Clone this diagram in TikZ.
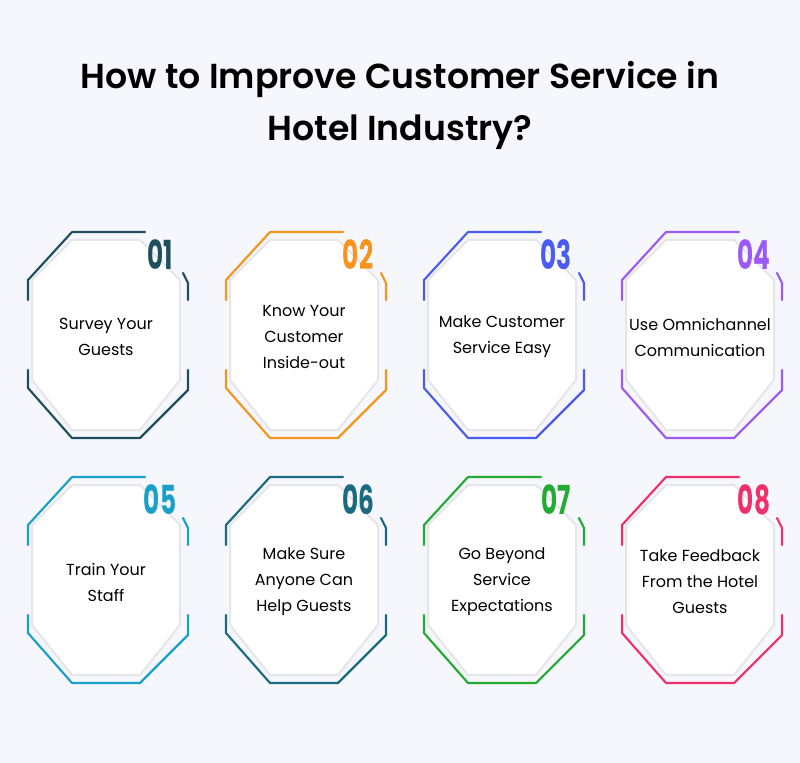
\documentclass[tikz,border=0pt]{standalone}
\usepackage{fontspec}
\usepackage{graphicx}
\setmainfont{Poppins}
\newfontfamily\titlefont{Poppins SemiBold}
\newfontfamily\numfont{Poppins Bold}
\definecolor{cA}{HTML}{1F4E5F}
\definecolor{cB}{HTML}{F7941D}
\definecolor{cC}{HTML}{4A5CF0}
\definecolor{cD}{HTML}{9B59F5}
\definecolor{cE}{HTML}{1AA0C8}
\definecolor{cF}{HTML}{1A6B80}
\definecolor{cG}{HTML}{22AA33}
\definecolor{cH}{HTML}{F0306A}
\definecolor{bgback}{HTML}{F6F7FD}
\definecolor{innerline}{HTML}{E6E6E8}
\tikzset{
  frame/.style={line width=1.6pt, line join=round, line cap=round},
  innerbox/.style={fill=white, draw=innerline, line width=1.5pt},
  cardtext/.style={align=center, font=\fontsize{12}{19.5}\selectfont, text=black},
  cardnum/.style={font=\numfont\fontsize{30}{30}\selectfont},
}
\newcommand{\hotelcard}[6]{%
  % #1 name, #2 x centre, #3 y top, #4 colour, #5 number, #6 text
  \begin{scope}[shift={(#2,#3)}]
    \draw[innerbox] (-74,-50) -- (-34,-10) -- (34,-10) -- (74,-50) -- (74,-150)
      -- (34,-200) -- (-34,-200) -- (-74,-150) -- cycle;
    \draw[frame, #4] (-78,-70) -- (-78,-50) -- (-34,-2) -- (39,-2);
    \draw[frame, #4] (77,-43) -- (82,-53) -- (82,-70);
    \draw[frame, #4] (-78,-140) -- (-78,-158) -- (-34,-208) -- (34,-208)
      -- (82,-160) -- (82,-140);
    \node[cardnum, text=#4] (#1num) at (54,-25) {\scalebox{0.62}[1]{#5}};
    \node[cardtext] (#1) at (0,-107) {#6};
  \end{scope}}
\begin{document}
\begin{tikzpicture}[x=0.75pt, y=0.75pt]
  \fill[bgback] (0,0) rectangle (800,-763);
  \useasboundingbox (0,0) rectangle (800,-763);
  \node[font=\titlefont\fontsize{26}{39}\selectfont, align=center] (title)
    at (400,-105) {How to Improve Customer Service in\\Hotel Industry?};
  \hotelcard{survey}{106}{-230}{cA}{01}{Survey Your\\Guests}
  \hotelcard{know}{304}{-230}{cB}{02}{Know Your\\Customer\\Inside-out}
  \hotelcard{easy}{502}{-230}{cC}{03}{Make Customer\\Service Easy}
  \hotelcard{omni}{700}{-230}{cD}{04}{Use Omnichannel\\Communication}
  \hotelcard{train}{106}{-475}{cE}{05}{Train Your\\Staff}
  \hotelcard{help}{304}{-475}{cF}{06}{Make Sure\\Anyone Can\\Help Guests}
  \hotelcard{beyond}{502}{-475}{cG}{07}{Go Beyond\\Service\\Expectations}
  \hotelcard{feedback}{700}{-475}{cH}{08}{Take Feedback\\From the Hotel\\Guests}
\end{tikzpicture}
\end{document}
